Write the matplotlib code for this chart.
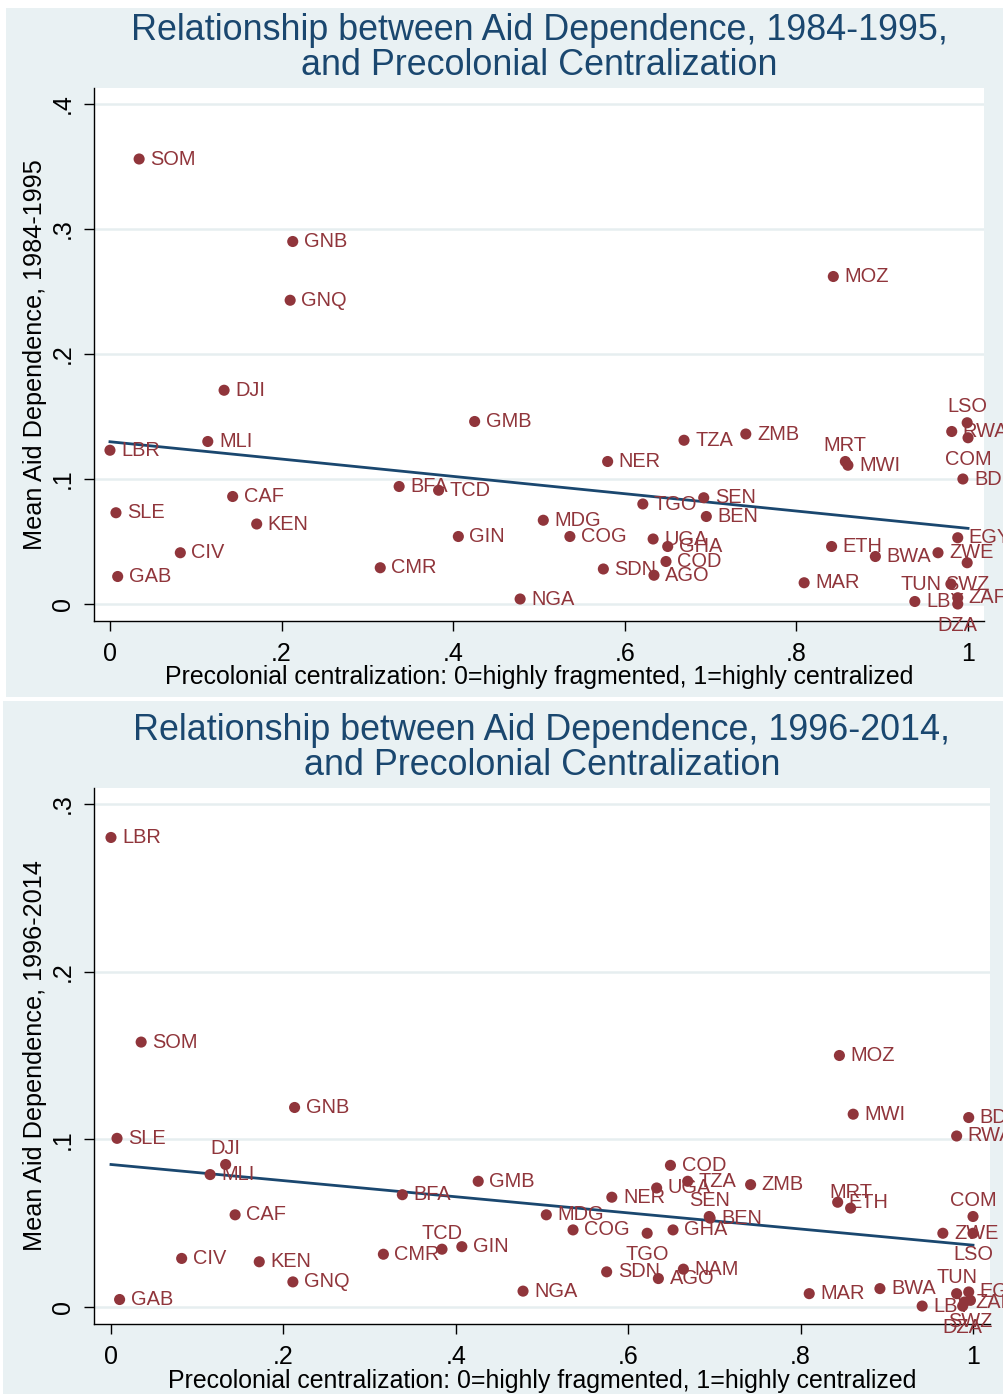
import numpy as np
import matplotlib
matplotlib.use("Agg")
import matplotlib.pyplot as plt
from matplotlib.patches import Rectangle

plt.rcParams['font.family'] = ['Liberation Sans', 'DejaVu Sans']

# ---- Period 1: 1984-1995 ----
codes_a = ["SOM", "GNB", "GNQ", "DJI", "LBR", "MLI", "GMB", "SLE", "CAF", "KEN",
           "CIV", "GAB", "BFA", "TCD", "GIN", "CMR", "NGA", "MDG", "COG", "NER",
           "TZA", "ZMB", "TGO", "SEN", "BEN", "UGA", "GHA", "COD", "SDN", "AGO",
           "MOZ", "MRT", "MWI", "ETH", "BWA", "MAR", "LSO", "RWA", "COM", "BDI",
           "EGY", "ZWE", "SWZ", "TUN", "LBY", "ZAF", "DZA"]
cent_a = [0.034, 0.213, 0.210, 0.133, 0.000, 0.114, 0.425, 0.007, 0.143, 0.171,
          0.082, 0.009, 0.337, 0.383, 0.406, 0.315, 0.478, 0.505, 0.536, 0.580,
          0.669, 0.741, 0.621, 0.692, 0.695, 0.633, 0.650, 0.648, 0.575, 0.634,
          0.843, 0.857, 0.860, 0.841, 0.892, 0.809, 0.999, 0.981, 1.000, 0.994,
          0.988, 0.965, 0.999, 0.980, 0.938, 0.988, 0.988]
aid_a = [0.356, 0.290, 0.243, 0.171, 0.123, 0.130, 0.146, 0.073, 0.086, 0.064,
         0.041, 0.022, 0.094, 0.091, 0.054, 0.029, 0.004, 0.067, 0.054, 0.114,
         0.131, 0.136, 0.080, 0.085, 0.070, 0.052, 0.046, 0.034, 0.028, 0.023,
         0.262, 0.114, 0.111, 0.046, 0.038, 0.017, 0.145, 0.138, 0.133, 0.100,
         0.053, 0.041, 0.033, 0.016, 0.002, 0.005, 0.000]

# ---- Period 2: 1996-2014 ----
codes_b = ["LBR", "SOM", "GNB", "SLE", "DJI", "MLI", "CAF", "CIV", "KEN", "GNQ",
           "GAB", "BFA", "GMB", "TCD", "CMR", "GIN", "NGA", "MDG", "COG", "NER",
           "UGA", "COD", "TZA", "SEN", "ZMB", "BEN", "GHA", "TGO", "SDN", "AGO",
           "NAM", "MOZ", "MWI", "BDI", "RWA", "MRT", "ETH", "COM", "ZWE", "LSO",
           "MAR", "BWA", "TUN", "EGY", "LBY", "ZAF", "SWZ", "DZA"]
cent_b = [0.000, 0.035, 0.213, 0.007, 0.133, 0.115, 0.144, 0.082, 0.172, 0.211,
          0.010, 0.338, 0.426, 0.384, 0.316, 0.407, 0.478, 0.505, 0.536, 0.581,
          0.633, 0.649, 0.669, 0.694, 0.742, 0.695, 0.652, 0.622, 0.575, 0.635,
          0.664, 0.845, 0.861, 0.995, 0.981, 0.858, 0.843, 1.000, 0.965, 1.000,
          0.810, 0.892, 0.981, 0.995, 0.941, 0.990, 0.997, 0.988]
aid_b = [0.280, 0.158, 0.119, 0.1006, 0.085, 0.079, 0.055, 0.029, 0.027, 0.015,
         0.0045, 0.067, 0.075, 0.0345, 0.0315, 0.036, 0.0095, 0.055, 0.046, 0.0655,
         0.071, 0.0845, 0.075, 0.054, 0.073, 0.053, 0.046, 0.044, 0.021, 0.017,
         0.0226, 0.150, 0.115, 0.113, 0.102, 0.059, 0.0625, 0.054, 0.044, 0.044,
         0.008, 0.011, 0.008, 0.009, 0.0006, 0.003, 0.004, 0.0006]

x_ticks = [0, 0.2, 0.4, 0.6, 0.8, 1.0]
x_ticklabels = ["0", ".2", ".4", ".6", ".8", "1"]
y_ticks_a = [0, 0.1, 0.2, 0.3, 0.4]
y_ticklabels_a = ["0", ".1", ".2", ".3", ".4"]
y_ticks_b = [0, 0.1, 0.2, 0.3]
y_ticklabels_b = ["0", ".1", ".2", ".3"]

# marker-label clock positions (default is 3 o'clock)
clock_a = {"LSO": 12, "MRT": 12, "COM": 6, "SWZ": 6, "DZA": 6, "TUN": 9}
clock_b = {"DJI": 12, "TCD": 12, "MRT": 12, "COM": 12, "TUN": 12, "SEN": 12,
           "TGO": 6, "LSO": 6, "SWZ": 6, "DZA": 6}

W, H = 1004, 1394
BG = "#e9f1f3"
MAROON = "#90353b"
NAVY = "#1a476f"
GRID = "#e6eef0"

fig = plt.figure(figsize=(W / 100, H / 100), dpi=100)
fig.patch.set_facecolor("white")

def fx(px):
    return px / W

def fy(py):
    return 1 - py / H

# light graph-region backgrounds (behind the axes)
for rect in (Rectangle((fx(6), fy(697)), fx(W - 6), 689 / H),
             Rectangle((fx(3), fy(H)), fx(W - 3), (H - 701) / H)):
    rect.set_transform(fig.transFigure)
    rect.set_facecolor(BG)
    rect.set_edgecolor("none")
    rect.set_zorder(-10)
    fig.add_artist(rect)

OFFS = {3: (8.0, 0, "left"), 12: (0, 11.5, "center"),
        6: (0, -15.5, "center"), 9: (-6.5, 0, "right")}


def panel(box, xlim, ylim, cent, aid, codes, clock, yticks, yticklabels,
          title, ylabel, title_y, xlab_y, ylab_x):
    left, top, right, bottom = box
    ax = fig.add_axes([fx(left), fy(bottom), fx(right - left), (bottom - top) / H])
    ax.set_zorder(1)
    ax.set_facecolor("white")
    ax.set_xlim(*xlim)
    ax.set_ylim(*ylim)
    for s in ("top", "right"):
        ax.spines[s].set_visible(False)
    for s in ("left", "bottom"):
        ax.spines[s].set_color("black")
        ax.spines[s].set_linewidth(1.0)
    for yv in yticks:
        ax.axhline(yv, color=GRID, lw=1.8, zorder=1)
    ax.set_xticks(x_ticks)
    ax.set_xticklabels(x_ticklabels)
    ax.set_yticks(yticks)
    ax.set_yticklabels(yticklabels, rotation=90, va="center")
    ax.tick_params(axis="both", length=7, width=1.0, labelsize=18,
                   color="black", labelcolor="black")
    ax.tick_params(axis="x", pad=8)
    ax.tick_params(axis="y", pad=7)

    x = np.asarray(cent)
    y = np.asarray(aid)
    ax.scatter(x, y, s=64, color=MAROON, edgecolors="none", zorder=3)
    for cx, cy, code in zip(x, y, codes):
        dx, dy, ha = OFFS[clock.get(code, 3)]
        ax.annotate(code, (cx, cy), xytext=(dx, dy), textcoords="offset points",
                    ha=ha, va="center", fontsize=14.4, color=MAROON,
                    annotation_clip=False, zorder=4)
    coef = np.polyfit(x, y, 1)
    xs = np.array([x.min(), x.max()])
    ax.plot(xs, np.polyval(coef, xs), color=NAVY, lw=2.0, zorder=2)

    cx = (left + right) / 2
    fig.text(fx(cx), fy(title_y), title, ha="center", va="center",
             fontsize=25.8, color=NAVY, linespacing=1.0)
    fig.text(fx(cx), fy(xlab_y),
             "Precolonial centralization: 0=highly fragmented, 1=highly centralized",
             ha="center", va="center", fontsize=17.9, color="black")
    fig.text(fx(ylab_x), fy((top + bottom) / 2), ylabel, rotation=90,
             ha="center", va="center", fontsize=18.2, color="black")
    return ax


panel((94, 88, 984, 621), (-0.0186, 1.0186), (-0.0136, 0.4128),
      cent_a, aid_a, codes_a, clock_a, y_ticks_a, y_ticklabels_a,
      "Relationship between Aid Dependence, 1984-1995,\nand Precolonial Centralization",
      "Mean Aid Dependence, 1984-1995", 48, 677, 35)

panel((94, 788, 990, 1324), (-0.0197, 1.0197), (-0.0101, 0.3095),
      cent_b, aid_b, codes_b, clock_b, y_ticks_b, y_ticklabels_b,
      "Relationship between Aid Dependence, 1996-2014,\nand Precolonial Centralization",
      "Mean Aid Dependence, 1996-2014", 748, 1381, 35)

fig.savefig("out.png", dpi=100, facecolor=fig.get_facecolor())
